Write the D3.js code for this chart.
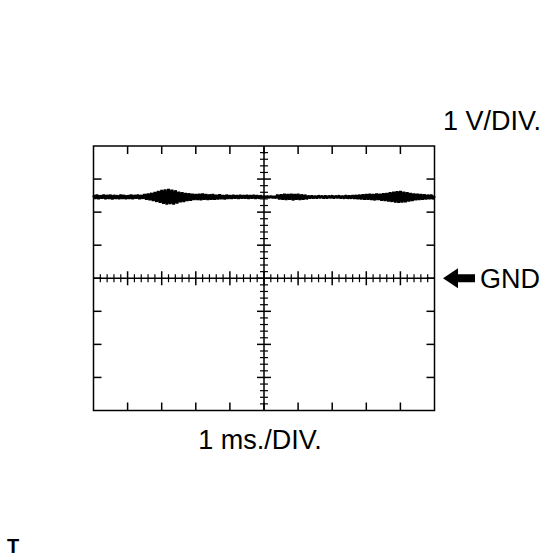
<!DOCTYPE html>
<html><head><meta charset="utf-8">
<script src="https://cdn.jsdelivr.net/npm/d3@7"></script>
<style>body{margin:0;background:#fff}svg{display:block}text{font-family:"Liberation Sans",Arial,sans-serif;fill:#000}</style>
</head><body><div id="c"></div>
<script>
// time in ms (1 ms/DIV), voltage in V (1 V/DIV), GND at 0 V
const times = d3.range(0, 201).map(i => i / 20);
const volts = [
2.51,2.41,2.52,2.40,2.50,2.42,2.52,2.40,2.51,2.41,
2.52,2.39,2.51,2.41,2.50,2.40,2.52,2.41,2.51,2.40,
2.50,2.41,2.52,2.40,2.51,2.42,2.52,2.40,2.51,2.41,
2.54,2.38,2.56,2.36,2.58,2.34,2.61,2.31,2.64,2.28,
2.67,2.25,2.69,2.23,2.70,2.24,2.68,2.23,2.66,2.26,
2.62,2.30,2.60,2.31,2.58,2.34,2.57,2.35,2.55,2.37,
2.54,2.37,2.55,2.36,2.56,2.38,2.54,2.37,2.53,2.38,
2.54,2.38,2.52,2.39,2.53,2.40,2.51,2.39,2.52,2.41,
2.50,2.41,2.51,2.42,2.50,2.41,2.51,2.42,2.50,2.42,
2.51,2.41,2.50,2.42,2.51,2.41,2.50,2.42,2.49,2.44,
2.47,2.45,2.47,2.45,2.47,2.45,2.46,2.44,2.52,2.39,
2.53,2.38,2.55,2.37,2.54,2.38,2.55,2.36,2.54,2.38,
2.55,2.37,2.53,2.38,2.52,2.40,2.49,2.43,2.49,2.43,
2.48,2.43,2.49,2.44,2.48,2.43,2.49,2.43,2.48,2.44,
2.49,2.43,2.48,2.44,2.49,2.43,2.48,2.42,2.50,2.42,
2.49,2.42,2.50,2.41,2.51,2.40,2.52,2.39,2.53,2.38,
2.54,2.38,2.55,2.37,2.54,2.36,2.56,2.37,2.55,2.35,
2.57,2.34,2.58,2.32,2.60,2.31,2.62,2.29,2.63,2.28,
2.64,2.29,2.62,2.30,2.60,2.32,2.58,2.34,2.56,2.36,
2.55,2.37,2.54,2.38,2.53,2.39,2.52,2.40,2.52,2.40,
2.49];
const xDivs = d3.range(0, 11);       // 0..10 ms
const yDivs = d3.range(-4, 5);       // -4..4 V
const labels = {volt: "1 V/DIV.", time: "1 ms./DIV.", gnd: "GND", corner: "T"};

const W = 558, H = 558;
const svg = d3.select("#c").append("svg").attr("width", W).attr("height", H);
const x = d3.scaleLinear().domain([0, 10]).range([93.5, 434.5]);
const y = d3.scaleLinear().domain([-4, 4]).range([410.5, 146]);
const g = svg.append("g").attr("stroke", "#000").attr("fill", "none");

// frame
g.append("rect").attr("x", x(0)).attr("y", y(4)).attr("width", x(10) - x(0)).attr("height", y(-4) - y(4)).attr("stroke-width", 1.5);
// center lines
g.append("line").attr("x1", x(0)).attr("x2", x(10)).attr("y1", y(0)).attr("y2", y(0)).attr("stroke-width", 1.5);
g.append("line").attr("x1", x(5)).attr("x2", x(5)).attr("y1", y(4)).attr("y2", y(-4)).attr("stroke-width", 1.5);

// major ticks on frame edges and center axes
xDivs.slice(1, -1).forEach(d => {
  g.append("line").attr("x1", x(d)).attr("x2", x(d)).attr("y1", y(4)).attr("y2", y(4) + 8).attr("stroke-width", 1.5);
  g.append("line").attr("x1", x(d)).attr("x2", x(d)).attr("y1", y(-4)).attr("y2", y(-4) - 8).attr("stroke-width", 1.5);
  g.append("line").attr("x1", x(d)).attr("x2", x(d)).attr("y1", y(0) - 7).attr("y2", y(0) + 7).attr("stroke-width", 1.5);
});
yDivs.slice(1, -1).forEach(d => {
  g.append("line").attr("y1", y(d)).attr("y2", y(d)).attr("x1", x(0)).attr("x2", x(0) + 8).attr("stroke-width", 1.5);
  g.append("line").attr("y1", y(d)).attr("y2", y(d)).attr("x1", x(10)).attr("x2", x(10) - 8).attr("stroke-width", 1.5);
  g.append("line").attr("y1", y(d)).attr("y2", y(d)).attr("x1", x(5) - 7).attr("x2", x(5) + 7).attr("stroke-width", 1.5);
});
// minor ticks on center axes
d3.range(0, 50).filter(i => i % 5 !== 0).forEach(i => {
  const t = i / 5;
  g.append("line").attr("x1", x(t)).attr("x2", x(t)).attr("y1", y(0) - 4).attr("y2", y(0) + 4).attr("stroke-width", 1.2);
});
d3.range(-20, 20).filter(i => i % 5 !== 0).forEach(i => {
  const v = i / 5;
  g.append("line").attr("y1", y(v)).attr("y2", y(v)).attr("x1", x(5) - 4).attr("x2", x(5) + 4).attr("stroke-width", 1.2);
});

// trace
const line = d3.line().x((d, i) => x(times[i])).y(d => y(d));
svg.append("path").datum(volts).attr("d", line).attr("fill", "none").attr("stroke", "#000").attr("stroke-width", 3).attr("stroke-linejoin", "bevel");

// labels
svg.append("text").attr("x", 541).attr("y", 130).attr("text-anchor", "end").attr("font-size", 27).text(labels.volt);
svg.append("text").attr("x", 260).attr("y", 449).attr("text-anchor", "middle").attr("font-size", 27).text(labels.time);
svg.append("text").attr("x", 480).attr("y", 288).attr("font-size", 27).text(labels.gnd);
svg.append("text").attr("x", 7).attr("y", 553).attr("font-size", 20).attr("font-weight", "bold").text(labels.corner);

// GND arrow
const ay = y(0);
svg.append("path").attr("fill", "#000")
  .attr("d", `M443,${ay} L458,${ay - 10} L458,${ay - 4} L475,${ay - 4} L475,${ay + 4} L458,${ay + 4} L458,${ay + 10} Z`);
</script></body></html>
